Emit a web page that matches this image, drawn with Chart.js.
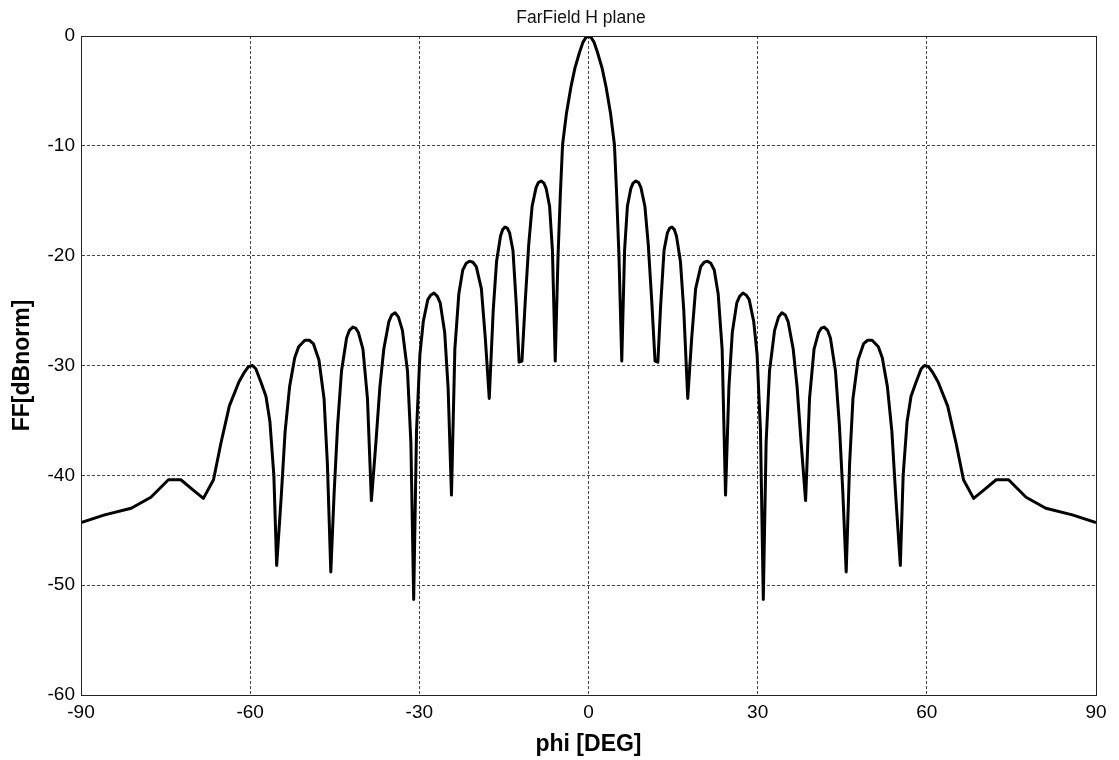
<!DOCTYPE html>
<html><head><meta charset="utf-8">
<script src="https://cdn.jsdelivr.net/npm/chart.js@4.4.1/dist/chart.umd.min.js"></script>
<style>html,body{margin:0;padding:0;background:#fff;overflow:hidden}canvas{display:block}</style>
</head><body>
<canvas id="c" width="1119" height="760"></canvas>
<script>
const chartTitle = 'FarField H plane';
const xLabel = 'phi [DEG]';
const yLabel = 'FF[dBnorm]';
const xTicks = [-90, -60, -30, 0, 30, 60, 90];
const yTicks = [-60, -50, -40, -30, -20, -10, 0];

const phi = [
 -90.0, -85.8, -81.1, -77.6, -74.5, -72.3, -70.2, -68.3, -66.5, -65.2,
 -63.7, -62.0, -61.0, -60.3, -59.6, -59.0, -58.1, -57.2, -56.5, -55.8,
 -55.3, -54.5, -53.8, -53.0, -52.1, -51.4, -50.3, -49.5, -48.8, -47.8,
 -46.9, -46.3, -45.7, -45.1, -44.5, -43.8, -42.9, -42.4, -41.8, -41.3,
 -40.8, -40.0, -39.2, -38.5, -37.7, -37.0, -36.3, -35.4, -34.9, -34.3,
 -33.7, -33.0, -32.1, -31.5, -31.0, -30.5, -29.9, -29.3, -28.5, -28.0,
 -27.4, -26.8, -26.3, -25.5, -24.9, -24.3, -23.7, -23.0, -22.3, -21.7,
 -21.1, -20.5, -19.9, -19.0, -18.3, -17.6, -16.9, -16.3, -15.6, -15.2,
 -14.8, -14.4, -14.0, -13.4, -12.8, -12.3, -11.8, -11.2, -10.6, -10.0,
 -9.3, -8.9, -8.4, -7.9, -7.5, -6.9, -6.4, -5.9, -5.4, -5.0,
 -4.6, -3.9, -3.1, -2.4, -1.6, -1.0, -0.5,
 0.0,
 0.5, 1.0, 1.6, 2.4, 3.1, 3.9, 4.6, 5.0, 5.4, 5.9,
 6.4, 6.9, 7.5, 7.9, 8.4, 8.9, 9.3, 10.0, 10.6, 11.2,
 11.8, 12.3, 12.8, 13.4, 14.0, 14.4, 14.8, 15.2, 15.6, 16.3,
 16.9, 17.6, 18.3, 19.0, 19.9, 20.5, 21.1, 21.7, 22.3, 23.0,
 23.7, 24.3, 24.9, 25.5, 26.3, 26.8, 27.4, 28.0, 28.5, 29.3,
 29.9, 30.5, 31.0, 31.5, 32.1, 33.0, 33.7, 34.3, 34.9, 35.4,
 36.3, 37.0, 37.7, 38.5, 39.2, 40.0, 40.8, 41.3, 41.8, 42.4,
 42.9, 43.8, 44.5, 45.1, 45.7, 46.3, 46.9, 47.8, 48.8, 49.5,
 50.3, 51.4, 52.1, 53.0, 53.8, 54.5, 55.3, 55.8, 56.5, 57.2,
 58.1, 59.0, 59.6, 60.3, 61.0, 62.0, 63.7, 65.2, 66.5, 68.3,
 70.2, 72.3, 74.5, 77.6, 81.1, 85.8, 90.0
];

const ff = [
 -44.3, -43.6, -43.0, -42.0, -40.4, -40.4, -41.3, -42.1, -40.4, -37.1,
 -33.7, -31.5, -30.6, -30.1, -30.0, -30.3, -31.5, -32.8, -35.1, -40.0,
 -48.2, -42.0, -36.0, -31.9, -29.3, -28.3, -27.7, -27.7, -28.0, -29.5,
 -33.0, -39.0, -48.8, -41.5, -35.5, -30.5, -27.5, -26.8, -26.5, -26.6,
 -27.0, -28.5, -33.0, -42.3, -37.0, -32.0, -28.5, -26.0, -25.4, -25.2,
 -25.6, -26.8, -30.5, -37.0, -51.3, -36.0, -29.0, -26.0, -24.0, -23.6,
 -23.4, -23.7, -24.3, -27.0, -32.0, -41.8, -28.5, -23.5, -21.3, -20.7,
 -20.5, -20.6, -21.0, -23.0, -27.5, -33.0, -25.0, -20.5, -18.2, -17.6,
 -17.4, -17.5, -17.9, -19.5, -24.5, -29.7, -29.6, -24.0, -19.0, -15.5,
 -13.8, -13.35, -13.2, -13.4, -13.9, -15.5, -19.5, -29.6, -20.0, -14.5,
 -9.9, -7.0, -4.6, -2.9, -1.5, -0.6, -0.15,
 0.0,
 -0.15, -0.6, -1.5, -2.9, -4.6, -7.0, -9.9, -14.5, -20.0, -29.6,
 -19.5, -15.5, -13.9, -13.4, -13.2, -13.35, -13.8, -15.5, -19.0, -24.0,
 -29.6, -29.7, -24.5, -19.5, -17.9, -17.5, -17.4, -17.6, -18.2, -20.5,
 -25.0, -33.0, -27.5, -23.0, -21.0, -20.6, -20.5, -20.7, -21.3, -23.5,
 -28.5, -41.8, -32.0, -27.0, -24.3, -23.7, -23.4, -23.6, -24.0, -26.0,
 -29.0, -36.0, -51.3, -37.0, -30.5, -26.8, -25.6, -25.2, -25.4, -26.0,
 -28.5, -32.0, -37.0, -42.3, -33.0, -28.5, -27.0, -26.6, -26.5, -26.8,
 -27.5, -30.5, -35.5, -41.5, -48.8, -39.0, -33.0, -29.5, -28.0, -27.7,
 -27.7, -28.3, -29.3, -31.9, -36.0, -42.0, -48.2, -40.0, -35.1, -32.8,
 -31.5, -30.3, -30.0, -30.1, -30.6, -31.5, -33.7, -37.1, -40.4, -42.1,
 -41.3, -40.4, -40.4, -42.0, -43.0, -43.6, -44.3
];

const points = phi.map((x, i) => ({x: x, y: ff[i]}));
const FONT = "'Liberation Sans', Arial, Helvetica, sans-serif";

const framePlugin = {
  id: 'frame',
  afterDraw(chart) {
    const {ctx, chartArea: a} = chart;
    ctx.save();
    ctx.strokeStyle = '#222';
    ctx.lineWidth = 1;
    ctx.strokeRect(Math.round(a.left) + 0.5, Math.round(a.top) + 0.5,
                   Math.round(a.right - a.left), Math.round(a.bottom - a.top));
    ctx.fillStyle = '#111';
    ctx.font = '17.5px ' + FONT;
    ctx.textAlign = 'center';
    ctx.textBaseline = 'alphabetic';
    ctx.fillText(chartTitle, 581, 23);
    ctx.restore();
  }
};

new Chart(document.getElementById('c'), {
  type: 'scatter',
  data: {
    datasets: [{
      data: points,
      showLine: true,
      borderColor: '#000',
      borderWidth: 3,
      borderJoinStyle: 'round',
      pointRadius: 0,
      tension: 0,
      fill: false
    }]
  },
  options: {
    responsive: false,
    animation: false,
    devicePixelRatio: 1,
    layout: {padding: {top: 36, right: 23, left: 0, bottom: 0}},
    plugins: {legend: {display: false}, tooltip: {enabled: false}},
    scales: {
      x: {
        type: 'linear',
        min: -90, max: 90,
        afterBuildTicks: s => { s.ticks = xTicks.map(v => ({value: v})); },
        afterFit: s => { s.height = 65; },
        ticks: {color: '#000', font: {family: FONT, size: 19}, padding: 6, maxRotation: 0, autoSkip: false},
        grid: {color: '#444', lineWidth: 1, drawTicks: false},
        border: {display: true, color: '#222', width: 1, dash: [3, 2]},
        title: {display: true, text: xLabel, color: '#000', font: {family: FONT, size: 23, weight: 'bold'}, padding: {top: 0, bottom: 2}}
      },
      y: {
        type: 'linear',
        min: -60, max: 0,
        afterBuildTicks: s => { s.ticks = yTicks.map(v => ({value: v})); },
        afterFit: s => { s.width = 81; },
        ticks: {color: '#000', font: {family: FONT, size: 19}, padding: 6, autoSkip: false},
        grid: {color: '#444', lineWidth: 1, drawTicks: false},
        border: {display: true, color: '#222', width: 1, dash: [3, 2]},
        title: {display: true, text: yLabel, color: '#000', font: {family: FONT, size: 23, weight: 'bold'}, padding: {top: 9, bottom: 0}}
      }
    }
  },
  plugins: [framePlugin]
});
</script>
</body></html>
